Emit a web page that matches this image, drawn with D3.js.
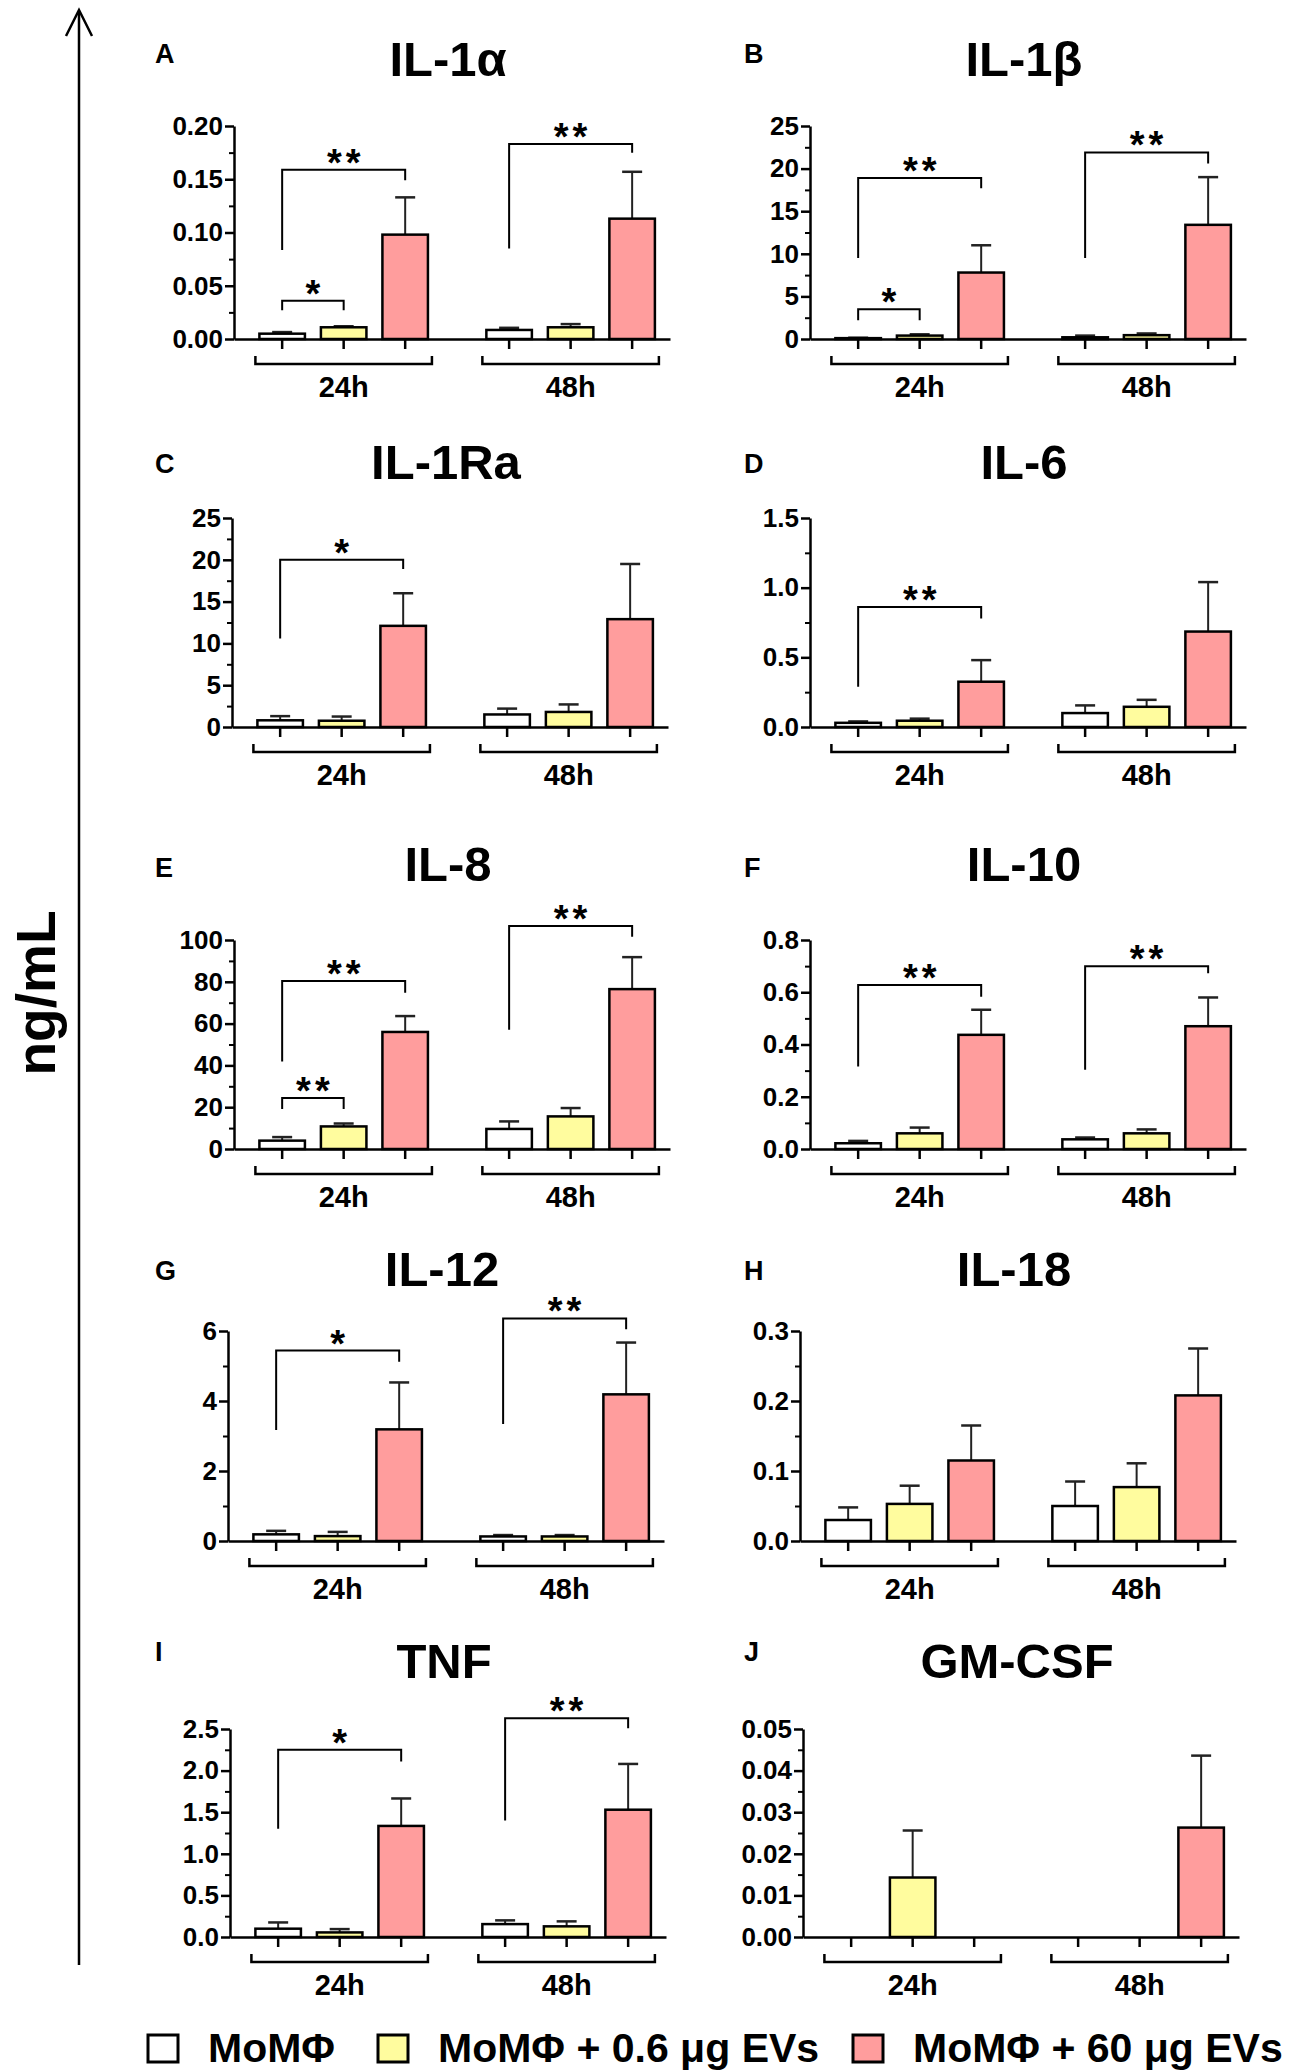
<!DOCTYPE html>
<html>
<head>
<meta charset="utf-8">
<script src="https://cdn.jsdelivr.net/npm/d3@7"></script>
<style>
  body { margin: 0; background: #fff; }
  svg { display: block; font-family: "Liberation Sans", Arial, Helvetica, sans-serif; font-weight: bold; }
</style>
</head>
<body>
<div id="fig"></div>
<script>
// categories
const groups = ["24h", "48h"];
const seriesNames = ["MoMΦ", "MoMΦ + 0.6 μg EVs", "MoMΦ + 60 μg EVs"];
const panelLetters = ["A", "B", "C", "D", "E", "F", "G", "H", "I", "J"];
const panelTitles = ["IL-1α", "IL-1β", "IL-1Ra", "IL-6", "IL-8", "IL-10", "IL-12", "IL-18", "TNF", "GM-CSF"];

// y tick labels
const ticksA = ["0.00", "0.05", "0.10", "0.15", "0.20"];
const ticksB = ["0", "5", "10", "15", "20", "25"];
const ticksC = ["0", "5", "10", "15", "20", "25"];
const ticksD = ["0.0", "0.5", "1.0", "1.5"];
const ticksE = ["0", "20", "40", "60", "80", "100"];
const ticksF = ["0.0", "0.2", "0.4", "0.6", "0.8"];
const ticksG = ["0", "2", "4", "6"];
const ticksH = ["0.0", "0.1", "0.2", "0.3"];
const ticksI = ["0.0", "0.5", "1.0", "1.5", "2.0", "2.5"];
const ticksJ = ["0.00", "0.01", "0.02", "0.03", "0.04", "0.05"];

// means / SEM, [24h, 48h] x [MoMΦ, +0.6, +60]
const meanA = [[0.005, 0.011, 0.098], [0.0085, 0.011, 0.113]];
const errA  = [[0.0015, 0.001, 0.035], [0.002, 0.003, 0.044]];
const meanB = [[0.1, 0.4, 7.8], [0.2, 0.45, 13.4]];
const errB  = [[0.05, 0.15, 3.2], [0.2, 0.2, 5.6]];
const meanC = [[0.8, 0.75, 12.1], [1.5, 1.8, 12.9]];
const errC  = [[0.5, 0.5, 3.9], [0.7, 0.9, 6.6]];
const meanD = [[0.03, 0.045, 0.325], [0.1, 0.145, 0.685]];
const errD  = [[0.01, 0.015, 0.155], [0.055, 0.05, 0.355]];
const meanE = [[4, 10.8, 56], [9.6, 15.6, 76.5]];
const errE  = [[1.7, 1.4, 7.6], [3.6, 4, 15.3]];
const meanF = [[0.022, 0.06, 0.437], [0.037, 0.06, 0.47]];
const errF  = [[0.009, 0.022, 0.096], [0.007, 0.015, 0.11]];
const meanG = [[0.19, 0.14, 3.19], [0.13, 0.13, 4.19]];
const errG  = [[0.1, 0.12, 1.34], [0.04, 0.04, 1.48]];
const meanH = [[0.03, 0.053, 0.115], [0.05, 0.077, 0.208]];
const errH  = [[0.018, 0.026, 0.05], [0.035, 0.034, 0.067]];
const meanI = [[0.1, 0.055, 1.335], [0.155, 0.128, 1.53]];
const errI  = [[0.075, 0.04, 0.33], [0.045, 0.06, 0.55]];
const meanJ = [[0, 0.0143, 0], [0, 0, 0.0263]];
const errJ  = [[0, 0.0113, 0], [0, 0, 0.0173]];

// significance brackets (data units): top line, left leg end, right leg end
const sigA = [
  { group: "24h", from: 0, to: 2, top: 0.159, left: 0.0836, right: 0.149, label: "**" },
  { group: "24h", from: 0, to: 1, top: 0.036, left: 0.027, right: 0.027, label: "*" },
  { group: "48h", from: 0, to: 2, top: 0.183, left: 0.085, right: 0.175, label: "**" }
];
const sigB = [
  { group: "24h", from: 0, to: 2, top: 18.9, left: 9.5, right: 17.7, label: "**" },
  { group: "24h", from: 0, to: 1, top: 3.5, left: 2.2, right: 2.2, label: "*" },
  { group: "48h", from: 0, to: 2, top: 21.9, left: 9.5, right: 20.6, label: "**" }
];
const sigC = [
  { group: "24h", from: 0, to: 2, top: 20.0, left: 10.6, right: 18.9, label: "*" }
];
const sigD = [
  { group: "24h", from: 0, to: 2, top: 0.862, left: 0.289, right: 0.778, label: "**" }
];
const sigE = [
  { group: "24h", from: 0, to: 2, top: 80.4, left: 41.9, right: 74.8, label: "**" },
  { group: "24h", from: 0, to: 1, top: 24.4, left: 19.1, right: 19.1, label: "**" },
  { group: "48h", from: 0, to: 2, top: 106.7, left: 57, right: 101.6, label: "**" }
];
const sigF = [
  { group: "24h", from: 0, to: 2, top: 0.628, left: 0.316, right: 0.583, label: "**" },
  { group: "48h", from: 0, to: 2, top: 0.70, left: 0.303, right: 0.673, label: "**" }
];
const sigG = [
  { group: "24h", from: 0, to: 2, top: 5.44, left: 3.17, right: 5.12, label: "*" },
  { group: "48h", from: 0, to: 2, top: 6.36, left: 3.34, right: 6.05, label: "**" }
];
const sigH = [];
const sigI = [
  { group: "24h", from: 0, to: 2, top: 2.25, left: 1.30, right: 2.11, label: "*" },
  { group: "48h", from: 0, to: 2, top: 2.63, left: 1.40, right: 2.51, label: "**" }
];
const sigJ = [];

const panelTicks = [ticksA, ticksB, ticksC, ticksD, ticksE, ticksF, ticksG, ticksH, ticksI, ticksJ];
const panelMeans = [meanA, meanB, meanC, meanD, meanE, meanF, meanG, meanH, meanI, meanJ];
const panelErrs  = [errA, errB, errC, errD, errE, errF, errG, errH, errI, errJ];
const panelSigs  = [sigA, sigB, sigC, sigD, sigE, sigF, sigG, sigH, sigI, sigJ];

// layout
const W = 1299, H = 2072;
const axisX   = [234, 810, 232, 810, 234, 810, 228, 800, 230, 803];
const rowTop  = [126, 518, 940, 1331, 1729];
const rowBase = [339, 727, 1149, 1541, 1937];
const titleY  = [76, 479, 881, 1286, 1678];
const letterY = [63, 473, 877, 1280, 1661];
const letterX = [155, 744];
const plotW = 436;
const colors = ["#ffffff", "#fffc9e", "#ff9d9d"];

const svg = d3.select("#fig").append("svg")
  .attr("width", W)
  .attr("height", H);

// big y arrow + unit label
svg.append("line")
  .attr("x1", 79).attr("x2", 79)
  .attr("y1", 12).attr("y2", 1965)
  .attr("stroke", "#000").attr("stroke-width", 2.5);
svg.append("path")
  .attr("d", "M66,36 L79,10 L92,36")
  .attr("fill", "none").attr("stroke", "#000").attr("stroke-width", 2.5);
svg.append("text")
  .attr("transform", "translate(55,993) rotate(-90)")
  .attr("text-anchor", "middle")
  .style("font-size", "55px")
  .text("ng/mL");

panelTitles.forEach((title, i) => {
  const col = i % 2, row = Math.floor(i / 2);
  const labels = panelTicks[i];
  const tickVals = labels.map(Number);
  const yMax = tickVals[tickVals.length - 1];
  const base = rowBase[row];

  const g = svg.append("g").attr("transform", `translate(${axisX[i]},0)`);

  const y = d3.scaleLinear().domain([0, yMax]).range([base, rowTop[row]]);

  const xg = d3.scaleBand()
    .domain(groups)
    .range([0, plotW])
    .paddingInner(0.187)
    .paddingOuter(0.054)
    .align(0.71);

  const xi = d3.scaleBand()
    .domain([0, 1, 2])
    .range([0, xg.bandwidth()])
    .paddingInner(0.26)
    .paddingOuter(0.13);

  const cx = (grp, s) => xg(grp) + xi(s) + xi.bandwidth() / 2;

  // panel letter + title
  svg.append("text")
    .attr("x", letterX[col]).attr("y", letterY[row])
    .style("font-size", "27px")
    .text(panelLetters[i]);
  g.append("text")
    .attr("x", plotW / 2 - 4).attr("y", titleY[row])
    .attr("text-anchor", "middle")
    .style("font-size", "49px")
    .text(title);

  // y axis (major + minor ticks)
  const step = tickVals[1] - tickVals[0];
  const minors = tickVals.slice(0, -1).map(v => v + step / 2);

  const yAx = g.append("g")
    .call(d3.axisLeft(y)
      .tickValues(tickVals)
      .tickFormat((d, k) => labels[k])
      .tickSize(9)
      .tickPadding(2)
      .tickSizeOuter(0));
  yAx.select(".domain").attr("stroke-width", 2.5);
  yAx.selectAll(".tick line").attr("stroke-width", 2.5);
  yAx.selectAll(".tick text")
    .style("font-size", "26px")
    .style("font-family", "'Liberation Sans', Arial, sans-serif")
    .style("font-weight", "bold")
    .attr("fill", "#000");

  const yMin = g.append("g")
    .call(d3.axisLeft(y).tickValues(minors).tickFormat("").tickSize(5).tickSizeOuter(0));
  yMin.select(".domain").remove();
  yMin.selectAll(".tick line").attr("stroke-width", 2);

  // x axis line
  const xAx = g.append("g")
    .attr("transform", `translate(0,${base})`)
    .call(d3.axisBottom(xg).tickValues([]).tickSizeOuter(0));
  xAx.select(".domain").attr("stroke-width", 2.5);

  const cells = [];
  groups.forEach((grp, gi) => {
    [0, 1, 2].forEach(s => {
      cells.push({ grp, s, mean: panelMeans[i][gi][s], err: panelErrs[i][gi][s] });
    });
  });

  // x ticks under each bar
  g.selectAll("line.xtick")
    .data(cells)
    .join("line")
    .attr("class", "xtick")
    .attr("x1", d => cx(d.grp, d.s)).attr("x2", d => cx(d.grp, d.s))
    .attr("y1", base).attr("y2", base + 10)
    .attr("stroke", "#000").attr("stroke-width", 2.5);

  // error bars (upper only)
  const withErr = cells.filter(d => d.err > 0);
  g.selectAll("line.err")
    .data(withErr)
    .join("line")
    .attr("class", "err")
    .attr("x1", d => cx(d.grp, d.s)).attr("x2", d => cx(d.grp, d.s))
    .attr("y1", d => y(d.mean)).attr("y2", d => y(d.mean + d.err))
    .attr("stroke", "#222").attr("stroke-width", 2);
  g.selectAll("line.cap")
    .data(withErr)
    .join("line")
    .attr("class", "cap")
    .attr("x1", d => cx(d.grp, d.s) - 10).attr("x2", d => cx(d.grp, d.s) + 10)
    .attr("y1", d => y(d.mean + d.err)).attr("y2", d => y(d.mean + d.err))
    .attr("stroke", "#222").attr("stroke-width", 2.5);

  // bars
  g.selectAll("rect.bar")
    .data(cells.filter(d => d.mean > 0))
    .join("rect")
    .attr("class", "bar")
    .attr("x", d => xg(d.grp) + xi(d.s))
    .attr("y", d => y(d.mean))
    .attr("width", xi.bandwidth())
    .attr("height", d => base - y(d.mean))
    .attr("fill", d => colors[d.s])
    .attr("stroke", "#000")
    .attr("stroke-width", 2.5);

  // group brackets + labels
  groups.forEach(grp => {
    const x0 = xg(grp) + 4, x1 = xg(grp) + xg.bandwidth() - 4;
    g.append("path")
      .attr("d", `M${x0},${base + 17}V${base + 25}H${x1}V${base + 17}`)
      .attr("fill", "none").attr("stroke", "#000").attr("stroke-width", 2.5);
    g.append("text")
      .attr("x", (x0 + x1) / 2).attr("y", base + 58)
      .attr("text-anchor", "middle")
      .style("font-size", "29px")
      .text(grp);
  });

  // significance
  panelSigs[i].forEach(sg => {
    const xl = cx(sg.group, sg.from), xr = cx(sg.group, sg.to);
    g.append("path")
      .attr("d", `M${xl},${y(sg.left)}V${y(sg.top)}H${xr}V${y(sg.right)}`)
      .attr("fill", "none").attr("stroke", "#000").attr("stroke-width", 2);
    g.append("text")
      .attr("x", (xl + xr) / 2 + (sg.label.length > 1 ? 2 : 0))
      .attr("y", y(sg.top) + 6)
      .attr("text-anchor", "middle")
      .style("font-size", "38px")
      .style("letter-spacing", sg.label.length > 1 ? "4px" : "0px")
      .text(sg.label);
  });
});

// legend
const legendBoxX = [148, 378, 853];
const legend = svg.append("g");
seriesNames.forEach((name, k) => {
  legend.append("rect")
    .attr("x", legendBoxX[k]).attr("y", 2035)
    .attr("width", 30).attr("height", 27)
    .attr("fill", colors[k]).attr("stroke", "#000").attr("stroke-width", 3);
  legend.append("text")
    .attr("x", legendBoxX[k] + 60).attr("y", 2062)
    .style("font-size", "41px")
    .text(name);
});
</script>
</body>
</html>
